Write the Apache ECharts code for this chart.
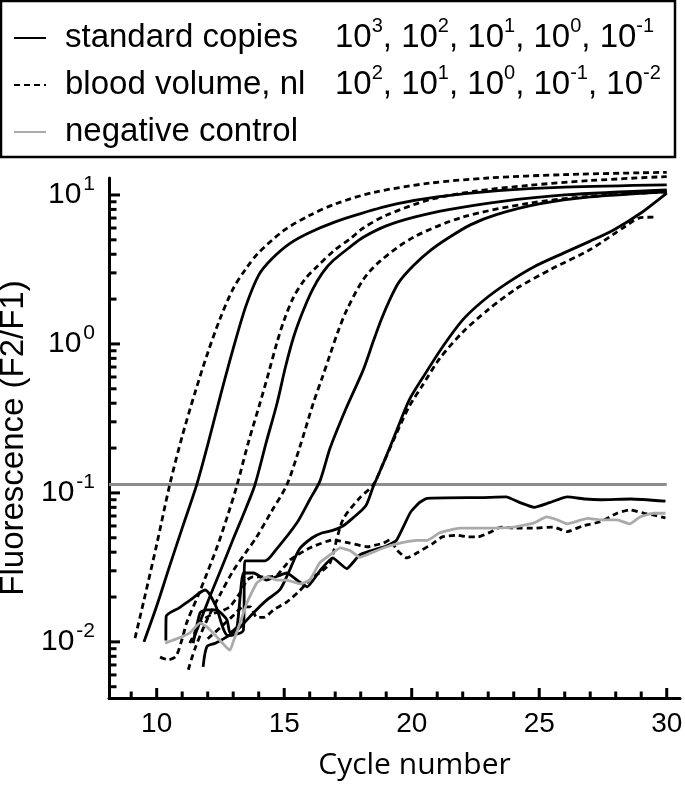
<!DOCTYPE html>
<html><head><meta charset="utf-8">
<script src="https://cdn.jsdelivr.net/npm/echarts@6/dist/echarts.min.js"></script>
<style>html,body{margin:0;padding:0;background:#fff}#c{width:685px;height:787px}</style>
</head><body><div id="c"></div>
<script>
// ---- axis ticks / labels ----
const xMajorTicks = [10, 15, 20, 25, 30];
const xMinorTicks = [9,11,12,13,14,16,17,18,19,21,22,23,24,26,27,28,29];
const yMajorTicks = [0.01, 0.1, 1, 10];
const yMinorTicks = [0.005,0.006,0.007,0.008,0.009,0.02,0.03,0.04,0.05,0.06,0.07,0.08,0.09,
                     0.2,0.3,0.4,0.5,0.6,0.7,0.8,0.9,2,3,4,5,6,7,8,9];
const xRange = [8.13, 30.52];
const yRange = [0.0042, 13];

// ---- legend ----
const legendNames = ['standard copies', 'blood volume, nl', 'negative control'];
const stdExponents = ['3', '2', '1', '0', '-1'];
const bloodExponents = ['2', '1', '0', '-1', '-2'];

// ---- threshold ----
const thresholdX = [8.13, 30];
const thresholdValue = 0.114;

// ---- standard copies (solid) ----
const std1000 = [[9.5,0.010],[10,0.0174],[10.5,0.032],[11,0.058],[11.58,0.115],[12,0.21],[12.5,0.45],[13,0.93],[13.5,1.8],[14,2.9],[14.5,3.7],[15.2,4.7],[16,5.6],[17,6.6],[18,7.5],[19.4,8.7],[21,9.7],[23.4,10.7],[26,11.3],[30,11.7]];
const std100 = [[11.4,0.0100],[12,0.0185],[12.5,0.030],[13,0.049],[13.5,0.079],[13.85,0.113],[14.3,0.22],[14.72,0.40],[15.05,0.70],[15.36,1.1],[15.7,1.6],[16.1,2.3],[16.5,3.0],[16.9,3.6],[17.6,4.5],[18.1,5.2],[19,6.2],[20.1,7.1],[21.5,8.0],[23.4,9.0],[26,10.0],[30,10.8]];
const std10 = [[10.36,0.0102],[10.37,0.0148],[10.9,0.017],[11.3,0.019],[11.9,0.0223],[12.3,0.0177],[12.8,0.0110],[13.4,0.0120],[13.46,0.035],[14.25,0.035],[14.7,0.042],[15.5,0.063],[16.0,0.090],[16.4,0.12],[16.8,0.20],[17.4,0.36],[18.1,0.67],[18.5,1.05],[18.8,1.45],[19.15,2.0],[19.5,2.6],[20.06,3.35],[20.7,4.2],[21.4,5.1],[22.3,6.3],[23.35,7.4],[25,8.7],[27,9.7],[30,10.5]];
const std1 = [[11.82,0.0068],[11.97,0.0093],[12.3,0.0098],[12.75,0.0108],[13.2,0.0122],[13.8,0.0157],[14.3,0.019],[14.84,0.0225],[15.2,0.030],[15.6,0.042],[16.1,0.050],[16.5,0.054],[16.9,0.056],[17.3,0.060],[17.7,0.068],[18.2,0.082],[18.49,0.110],[18.9,0.16],[19.42,0.265],[19.9,0.42],[20.45,0.60],[21.2,0.95],[22.0,1.45],[22.8,1.95],[23.74,2.56],[24.8,3.3],[25.95,4.07],[27,4.9],[27.9,5.8],[29,7.6],[30,10.3]];
const std01 = [[11.43,0.0098],[11.7,0.0157],[11.97,0.0164],[12.36,0.0164],[12.76,0.014],[12.87,0.0115],[13.15,0.0126],[13.4,0.029],[13.8,0.029],[14.3,0.026],[15.1,0.029],[15.5,0.026],[15.9,0.0234],[16.4,0.030],[16.9,0.0366],[17.45,0.031],[17.97,0.0384],[19.0,0.044],[19.4,0.048],[19.95,0.074],[20.3,0.086],[20.6,0.092],[22.7,0.093],[23.7,0.094],[24.25,0.086],[24.8,0.080],[25.4,0.086],[26.1,0.094],[26.8,0.091],[27.4,0.090],[28.6,0.091],[29.95,0.088]];

// ---- blood volume (dashed) ----
const blood100 = [[9.15,0.0106],[9.5,0.019],[10,0.045],[10.52,0.115],[11,0.24],[11.5,0.47],[12,0.87],[12.5,1.5],[13,2.35],[13.5,3.2],[14,4.1],[15,5.8],[16,7.3],[17,8.7],[18.5,10.4],[20.7,12],[23,13],[26,13.7],[30,14.2]];
const blood10 = [[10.13,0.0079],[10.45,0.0076],[10.75,0.0080],[11.0,0.0105],[11.18,0.0135],[11.7,0.022],[12.36,0.043],[12.8,0.072],[13.15,0.113],[13.6,0.22],[14.05,0.40],[14.4,0.65],[14.7,1.0],[15.0,1.45],[15.36,2.05],[15.8,2.7],[16.28,3.3],[17,4.3],[17.6,5.1],[18.1,6.0],[19,7.3],[20.7,9.3],[22.5,10.6],[24.6,11.6],[27,12.5],[30,13.3]];
const blood1 = [[11.24,0.0065],[11.5,0.009],[11.97,0.014],[12.5,0.021],[13.0,0.030],[13.5,0.040],[13.9,0.050],[14.5,0.075],[15.1,0.113],[15.6,0.20],[16.14,0.40],[16.5,0.60],[16.8,0.85],[17.1,1.2],[17.46,1.7],[18.1,2.7],[18.76,3.6],[20.07,5.2],[22,7.1],[24.6,8.8],[27,9.8],[30,10.5]];
const blood01 = [[12.0,0.0105],[12.5,0.0125],[13.0,0.0150],[13.4,0.0172],[13.66,0.0172],[13.93,0.0146],[14.2,0.0146],[14.6,0.0165],[15.1,0.0185],[15.6,0.022],[16.1,0.027],[16.5,0.030],[16.8,0.034],[17.3,0.066],[17.97,0.093],[18.49,0.113],[18.9,0.16],[19.4,0.25],[19.9,0.38],[20.4,0.52],[21.1,0.80],[22.0,1.2],[23.0,1.7],[24.1,2.35],[25.5,3.2],[27,4.3],[28.4,6.2],[28.9,7.0],[29.5,7.1]];
const blood001 = [[11.3,0.0098],[11.7,0.0135],[12.2,0.0155],[12.5,0.0160],[12.87,0.0172],[13.27,0.0214],[13.54,0.026],[13.78,0.0273],[14.33,0.0273],[14.72,0.028],[15.23,0.0355],[16.0,0.0427],[16.91,0.0484],[17.58,0.046],[18.25,0.0435],[18.88,0.046],[19.15,0.0484],[19.42,0.0414],[19.8,0.0366],[20.2,0.0395],[20.85,0.046],[21.2,0.0507],[21.8,0.052],[22.2,0.0507],[22.6,0.0507],[23.1,0.0547],[23.5,0.059],[24.0,0.058],[24.8,0.058],[25.55,0.059],[26.1,0.055],[26.7,0.060],[27.4,0.064],[28.05,0.073],[28.55,0.077],[29.1,0.073],[29.5,0.071],[29.95,0.068]];

// ---- negative control (gray) ----
const negControl = [[10.33,0.0098],[10.91,0.0107],[11.3,0.0115],[11.7,0.0134],[11.97,0.0126],[12.36,0.0108],[12.87,0.0088],[13.0,0.0100],[13.27,0.0134],[13.54,0.0183],[13.93,0.0249],[14.33,0.0273],[14.72,0.026],[15.1,0.026],[15.62,0.0245],[16.0,0.026],[16.4,0.034],[16.9,0.0395],[17.2,0.0427],[17.58,0.041],[17.97,0.037],[18.25,0.0385],[18.88,0.0427],[19.54,0.046],[20.2,0.048],[20.6,0.048],[21.1,0.054],[21.9,0.058],[22.95,0.058],[24.0,0.059],[24.8,0.063],[25.3,0.069],[25.7,0.066],[26.1,0.062],[26.9,0.0675],[27.4,0.066],[28.05,0.066],[28.55,0.062],[28.95,0.069],[29.5,0.073],[29.95,0.073]];

const FONT = 'Liberation Sans, Arial, sans-serif';
const solidStyle = {color: '#000', width: 2.8, type: 'solid'};
const dashStyle = {color: '#000', width: 2.8, type: [6, 4]};
const grayStyle = {color: '#aaaaaa', width: 2.8, type: 'solid'};

function mk(name, data, ls, smooth) {
  return {name: name, type: 'line', data: data, symbol: 'none', showSymbol: false,
    smooth: smooth, lineStyle: ls, itemStyle: {color: ls.color, opacity: 0}, clip: false,
    silent: true};
}
function powList(exps) {
  return exps.map(e => '{b|10}{s|' + e + '}').join('{b|, }');
}

const baseSeries = [
  {name: 'threshold', type: 'line', data: thresholdX.map(x => [x, thresholdValue]), symbol: 'none',
   lineStyle: {color: '#8c8c8c', width: 3}, silent: true, z: 1},
  mk(legendNames[0], std1000, solidStyle, 0.3),
  mk(legendNames[0], std100, solidStyle, 0.3),
  mk(legendNames[0], std10, solidStyle, 0.25),
  mk(legendNames[0], std1, solidStyle, 0.25),
  mk(legendNames[0], std01, solidStyle, 0.15),
  mk(legendNames[1], blood100, dashStyle, 0.3),
  mk(legendNames[1], blood10, dashStyle, 0.3),
  mk(legendNames[1], blood1, dashStyle, 0.3),
  mk(legendNames[1], blood01, dashStyle, 0.25),
  mk(legendNames[1], blood001, dashStyle, 0.15),
  mk(legendNames[2], negControl, grayStyle, 0.15)
];

const chart = echarts.init(document.getElementById('c'), null, {renderer: 'canvas'});
chart.setOption({
  animation: false,
  backgroundColor: '#fff',
  grid: {left: 109, right: 5, top: 178, bottom: 89, containLabel: false, outerBoundsMode: 'none'},
  legend: {
    data: legendNames,
    orient: 'vertical', left: 1, top: 1,
    borderColor: '#000', borderWidth: 2.5,
    padding: [15, 4, 3, 12],
    itemGap: 3, itemWidth: 32, itemHeight: 20,
    selectedMode: false,
    itemStyle: {opacity: 0},
    formatter: function (name) {
      if (name === legendNames[0]) return '{sp| }{n|' + name + '}' + powList(stdExponents);
      if (name === legendNames[1]) return '{sp| }{n|' + name + '}' + powList(bloodExponents);
      return '{sp| }{n|' + name + '}';
    },
    textStyle: {
      color: '#000', fontFamily: FONT, fontSize: 33, lineHeight: 44, width: 620, overflow: 'none',
      rich: {
        sp: {width: 14, fontSize: 33, lineHeight: 44},
        n: {width: 270, fontSize: 33, lineHeight: 44, fontFamily: FONT, color: '#000'},
        b: {fontSize: 33, lineHeight: 44, fontFamily: FONT, color: '#000'},
        s: {fontSize: 20, lineHeight: 20, verticalAlign: 'top', fontFamily: FONT, color: '#000'}
      }
    }
  },
  xAxis: {
    type: 'value', min: xRange[0], max: xRange[1],
    name: 'Cycle number', nameLocation: 'middle', nameGap: 52,
    nameTextStyle: {fontFamily: 'Open Sans', fontSize: 30, color: '#000', padding: [0, 0, 0, 40]},
    axisLine: {show: true, onZero: false, lineStyle: {color: '#000', width: 3}},
    axisTick: {show: false},
    axisLabel: {show: true, margin: 12, color: '#000', fontFamily: FONT, fontSize: 28, customValues: xMajorTicks},
    splitLine: {show: false}
  },
  yAxis: {
    type: 'log', logBase: 10, min: yRange[0], max: yRange[1],
    name: 'Fluorescence (F2/F1)', nameLocation: 'middle', nameGap: 64,
    nameTextStyle: {fontFamily: FONT, fontSize: 33, color: '#000'},
    axisLine: {show: true, onZero: false, lineStyle: {color: '#000', width: 3}},
    axisTick: {show: false},
    axisLabel: {
      show: true, margin: 14, customValues: yMajorTicks,
      formatter: function (v) { return '{b|10}{s|' + Math.round(Math.log10(v)) + '}'; },
      rich: {
        b: {fontSize: 30, lineHeight: 42, fontFamily: FONT, color: '#000'},
        s: {fontSize: 21, lineHeight: 21, verticalAlign: 'top', fontFamily: FONT, color: '#000', padding: [0, 0, 0, 2]}
      }
    },
    splitLine: {show: false}
  },
  series: baseSeries
});

// tick marks as tiny two-point line series; end points found through the axes' scales
function tickLine(p0, len, dim) {
  const px = chart.convertToPixel({gridIndex: 0}, p0);
  const endPx = dim === 'x' ? [px[0], px[1] - len] : [px[0] + len, px[1]];
  const end = chart.convertFromPixel({gridIndex: 0}, endPx);
  const p1 = dim === 'x' ? [p0[0], end[1]] : [end[0], p0[1]];
  return {type: 'line', data: [p0, p1], symbol: 'none', showSymbol: false, silent: true,
    clip: false, z: 6, lineStyle: {color: '#000', width: 3, cap: 'butt'}};
}
const tickSeriesList = [];
xMajorTicks.forEach(v => tickSeriesList.push(tickLine([v, yRange[0]], 10, 'x')));
xMinorTicks.forEach(v => tickSeriesList.push(tickLine([v, yRange[0]], 6.5, 'x')));
yMajorTicks.forEach(v => tickSeriesList.push(tickLine([xRange[0], v], 11, 'y')));
yMinorTicks.forEach(v => tickSeriesList.push(tickLine([xRange[0], v], 7.5, 'y')));
chart.setOption({series: baseSeries.concat(tickSeriesList)});
</script>
</body></html>
